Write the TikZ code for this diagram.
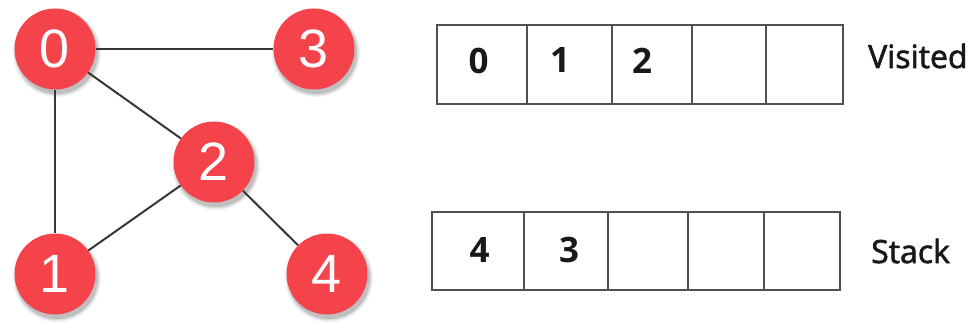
\documentclass[tikz,border=0pt]{standalone}
\usepackage{fontspec}
\setmainfont{Open Sans}
\newfontfamily\numfont{Liberation Sans}
\newfontfamily\lblfont[FakeBold=2]{Open Sans}
\usetikzlibrary{backgrounds}
\definecolor{nodered}{RGB}{244,67,74}
\definecolor{edgegray}{RGB}{55,55,55}
\definecolor{boxgray}{RGB}{80,80,80}
\tikzset{
  vertex/.style={circle, fill=nodered, minimum size=81pt, inner sep=0pt,
    text=white, font=\numfont\fontsize{54}{54}\selectfont},
  edge/.style={draw=edgegray, line width=2pt},
  cell/.style={draw=boxgray, line width=2pt, minimum height=#1, inner sep=0pt},
  digit/.style={font=\bfseries\fontsize{35}{35}\selectfont, inner sep=0pt, text=black!90},
  lbl/.style={font=\lblfont\fontsize{32}{32}\selectfont, inner sep=0pt, text=black!90}
}
\newcommand{\softshadow}[1]{%
  \fill[black!6]  ([shift={(2,4)}]#1.center) circle (44pt);
  \fill[black!14] ([shift={(2,4)}]#1.center) circle (42.5pt);
  \fill[black!25] ([shift={(2,4)}]#1.center) circle (41pt);}
\begin{document}
\begin{tikzpicture}[x=1pt,y=-1pt]
\useasboundingbox (0,0) rectangle (978,326);
% graph
\node[vertex] (n0) at (55,49) {0};
\node[vertex] (n3) at (314,49) {3};
\node[vertex] (n2) at (214,162) {2};
\node[vertex] (n1) at (55,274) {1};
\node[vertex] (n4) at (327,274) {4};
\begin{scope}[on background layer]
\softshadow{n0}
\softshadow{n1}
\softshadow{n2}
\softshadow{n3}
\softshadow{n4}
\draw[edge] (n0) -- (n3);
\draw[edge] (n0) -- (n1);
\draw[edge] (n0) -- (n2);
\draw[edge] (n2) -- (n1);
\draw[edge] (n2) -- (n4);
\end{scope}
% visited
\node[cell=79pt, minimum width=90pt] (v1) at (482,64.5) {};
\node[cell=79pt, minimum width=85pt] (v2) at (569.5,64.5) {};
\node[cell=79pt, minimum width=80pt] (v3) at (652,64.5) {};
\node[cell=79pt, minimum width=74pt] (v4) at (729,64.5) {};
\node[cell=79pt, minimum width=77pt] (v5) at (804.5,64.5) {};
\node[digit] (vd0) at (478.5,60.5) {0};
\node[digit] (vd1) at (560,60.5) {1};
\node[digit] (vd2) at (642,60.5) {2};
\node[lbl, anchor=base west] (vis) at (868,68) {Visited};
% stack
\node[cell=78pt, minimum width=92pt] (s1) at (478,251) {};
\node[cell=78pt, minimum width=84pt] (s2) at (566,251) {};
\node[cell=78pt, minimum width=80pt] (s3) at (648,251) {};
\node[cell=78pt, minimum width=76pt] (s4) at (726,251) {};
\node[cell=78pt, minimum width=76pt] (s5) at (802,251) {};
\node[digit] (sd4) at (479.5,250) {4};
\node[digit] (sd3) at (569,250) {3};
\node[lbl, anchor=base west] (stk) at (871,263) {Stack};
\end{tikzpicture}
\end{document}
